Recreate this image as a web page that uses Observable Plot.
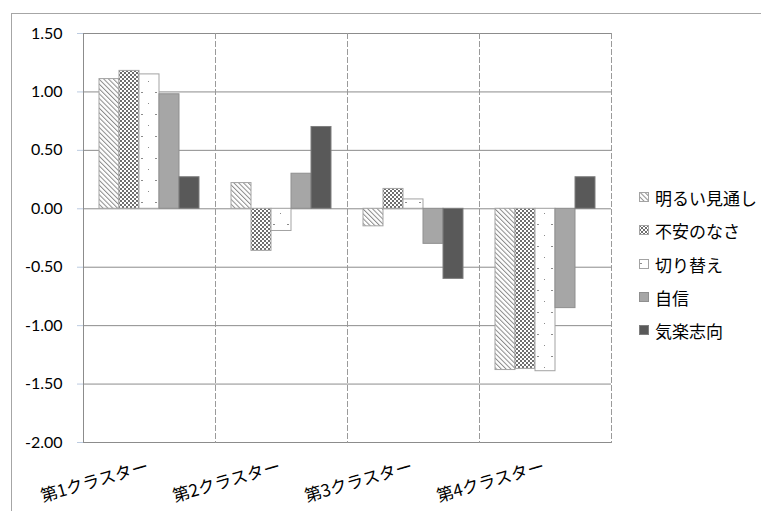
<!DOCTYPE html>
<html>
<head>
<meta charset="utf-8">
<script src="https://cdn.jsdelivr.net/npm/d3@7"></script>
<script src="https://cdn.jsdelivr.net/npm/@observablehq/plot@0.6"></script>
<style>
  body { margin: 0; background: #fff; }
  #wrap { position: relative; width: 761px; height: 511px; overflow: hidden; font-family: "Noto Sans CJK JP", sans-serif; }
  #border { position: absolute; left: 11px; top: 13px; width: 900px; height: 700px; border: 1px solid #a6a6a6; box-sizing: border-box; }
  #chart { position: absolute; left: 0; top: 0; }
  #legend { position: absolute; left: 639px; top: 181px; }
  .row { display: flex; align-items: center; height: 33.3px; font-size: 17px; color: #000; white-space: nowrap; }
  .row svg { margin-right: 5px; flex: none; }
</style>
</head>
<body>
<!-- fill patterns shared by the bars and the legend swatches -->
<svg width="0" height="0" style="position:absolute">
  <defs>
    <pattern id="p-hatch" patternUnits="userSpaceOnUse" width="3.4" height="3.4" patternTransform="rotate(-45)">
      <rect width="3.4" height="3.4" fill="#fff"/>
      <line x1="0.5" y1="0" x2="0.5" y2="3.4" stroke="#8a8a8a" stroke-width="1"/>
    </pattern>
    <pattern id="p-check" patternUnits="userSpaceOnUse" width="4" height="4">
      <rect width="4" height="4" fill="#fff"/>
      <rect x="0" y="0" width="2" height="2" fill="#6e6e6e"/>
      <rect x="2" y="2" width="2" height="2" fill="#6e6e6e"/>
    </pattern>
    <pattern id="p-dots" patternUnits="userSpaceOnUse" width="14" height="22">
      <rect width="14" height="22" fill="#fff"/>
      <rect x="1" y="4" width="2" height="1" fill="#8c8c8c"/>
      <rect x="8" y="15" width="1" height="1" fill="#8c8c8c"/>
    </pattern>
  </defs>
</svg>
<div id="wrap">
  <div id="border"></div>
  <div id="chart"></div>
  <div id="legend"></div>
</div>
<script>
// Cluster profiles: standardized scores of each factor per cluster
const clusters = ["第1クラスター", "第2クラスター", "第3クラスター", "第4クラスター"];
const series = ["明るい見通し", "不安のなさ", "切り替え", "自信", "気楽志向"];

const akaruiMitooshi = [1.11, 0.22, -0.15, -1.38];
const fuanNoNasa     = [1.18, -0.36, 0.17, -1.37];
const kirikae        = [1.15, -0.19, 0.08, -1.39];
const jishin         = [0.98, 0.30, -0.30, -0.85];
const kirakuShikou   = [0.27, 0.70, -0.60, 0.27];

const yTicks = [-2, -1.5, -1, -0.5, 0, 0.5, 1, 1.5];

const seriesValues = [akaruiMitooshi, fuanNoNasa, kirikae, jishin, kirakuShikou];

// fill and outline for each factor
const seriesStyle = {
  "明るい見通し": {fill: "url(#p-hatch)", stroke: "#a3a3a3"},
  "不安のなさ":   {fill: "url(#p-check)", stroke: "#a3a3a3"},
  "切り替え":     {fill: "url(#p-dots)",  stroke: "#a3a3a3"},
  "自信":         {fill: "#a6a6a6",       stroke: "#8f8f8f"},
  "気楽志向":     {fill: "#595959",       stroke: "#7f7f7f"}
};

const table = [];
series.forEach((s, i) => {
  clusters.forEach((c, j) => table.push({cluster: c, series: s, value: seriesValues[i][j]}));
});

const bars = series.map(s => Plot.barY(table.filter(d => d.series === s), {
  fx: "cluster",
  x: "series",
  y1: 0,
  y2: "value",
  fill: seriesStyle[s].fill,
  stroke: seriesStyle[s].stroke,
  strokeWidth: 1
}));

const chart = Plot.plot({
  width: 761,
  height: 511,
  marginLeft: 83,
  marginRight: 150,
  marginTop: 33,
  marginBottom: 69,
  style: {background: "transparent", fontFamily: "Noto Sans CJK JP, sans-serif", color: "#000"},
  fx: {domain: clusters, padding: 0, axis: null},
  x: {domain: series, paddingInner: 0, paddingOuter: 0.75, axis: null},
  y: {domain: [-2, 1.5], axis: null},
  marks: [
    Plot.ruleY(yTicks, {stroke: "#8c8c8c", strokeWidth: 1}),
    Plot.frame({anchor: "right", stroke: "#9a9a9a", strokeDasharray: "5,3"}),
    ...bars,
    Plot.frame({anchor: "left", facetAnchor: "left", stroke: "#8c8c8c"}),
    Plot.axisY(yTicks, {
      tickSize: 6,
      tickPadding: 15,
      tickFormat: d => d.toFixed(2),
      stroke: "#bccbe0",
      fill: "#000",
      fontSize: 16,
      fontFamily: "Lato",
      label: null
    }),
    Plot.text(clusters, {
      fx: d => d,
      text: d => d,
      frameAnchor: "bottom",
      dy: 29,
      rotate: -16,
      textAnchor: "end",
      fontSize: 17,
      fill: "#000"
    })
  ]
});
document.getElementById("chart").appendChild(chart);

// legend
const legend = document.getElementById("legend");
series.forEach(s => {
  const row = document.createElement("div");
  row.className = "row";
  row.innerHTML = `<svg width="11" height="11"><rect x="0.5" y="0.5" width="9" height="9" fill="${seriesStyle[s].fill}" stroke="${seriesStyle[s].stroke}"/></svg><span>${s}</span>`;
  legend.appendChild(row);
});
</script>
</body>
</html>
